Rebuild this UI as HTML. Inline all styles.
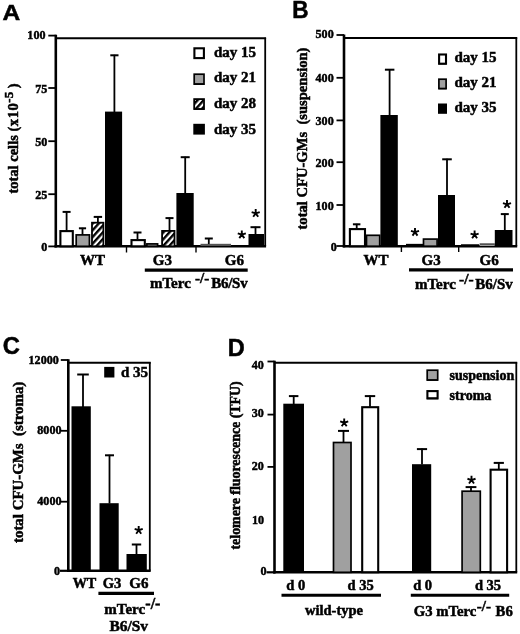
<!DOCTYPE html>
<html><head><meta charset="utf-8"><title>Figure</title>
<style>
html,body{margin:0;padding:0;background:#fff;}
body{width:520px;height:634px;overflow:hidden;font-family:"Liberation Serif",serif;}
svg{display:block;}
</style></head>
<body>
<svg width="520" height="634" viewBox="0 0 520 634">
<defs>
<pattern id="hatch" width="4.5" height="4.5" patternUnits="userSpaceOnUse" patternTransform="rotate(-48) translate(0,1.2)">
<rect width="4.5" height="4.5" fill="#fff"/><rect width="4.5" height="2.4" fill="#060606"/>
</pattern>
<filter id="soft"><feGaussianBlur stdDeviation="0.45"/></filter>
</defs>
<rect width="520" height="634" fill="#fff"/>
<g filter="url(#soft)">
<text transform="translate(2.6,20.1) scale(1.09,1)" font-family='"Liberation Sans", sans-serif' font-weight="bold" font-size="22.5" text-anchor="start" fill="#060606" stroke="#060606" stroke-width="0.5" >A</text>
<line x1="55.8" y1="34.7" x2="55.8" y2="247.5" stroke="#060606" stroke-width="2.6"/>
<line x1="54.5" y1="246.3" x2="266.1" y2="246.3" stroke="#060606" stroke-width="2.4"/>
<line x1="55.8" y1="38.2" x2="266.1" y2="38.2" stroke="#060606" stroke-width="1.9"/>
<line x1="265.2" y1="37.7" x2="265.2" y2="246.3" stroke="#060606" stroke-width="1.8"/>
<line x1="48.3" y1="35.6" x2="55.8" y2="35.6" stroke="#060606" stroke-width="1.8"/>
<text transform="translate(45.5,39.2) scale(0.93,1)" font-family='"Liberation Serif", serif' font-weight="bold" font-size="13" text-anchor="end" fill="#060606" stroke="#060606" stroke-width="0.5" >100</text>
<line x1="48.3" y1="88.0" x2="55.8" y2="88.0" stroke="#060606" stroke-width="1.8"/>
<text transform="translate(47.4,92.5) scale(0.93,1)" font-family='"Liberation Serif", serif' font-weight="bold" font-size="13" text-anchor="end" fill="#060606" stroke="#060606" stroke-width="0.5" >75</text>
<line x1="48.3" y1="141.2" x2="55.8" y2="141.2" stroke="#060606" stroke-width="1.8"/>
<text transform="translate(47.4,145.7) scale(0.93,1)" font-family='"Liberation Serif", serif' font-weight="bold" font-size="13" text-anchor="end" fill="#060606" stroke="#060606" stroke-width="0.5" >50</text>
<line x1="48.3" y1="194.2" x2="55.8" y2="194.2" stroke="#060606" stroke-width="1.8"/>
<text transform="translate(47.4,198.7) scale(0.93,1)" font-family='"Liberation Serif", serif' font-weight="bold" font-size="13" text-anchor="end" fill="#060606" stroke="#060606" stroke-width="0.5" >25</text>
<line x1="48.3" y1="246.4" x2="55.8" y2="246.4" stroke="#060606" stroke-width="1.8"/>
<text transform="translate(47.4,250.9) scale(0.93,1)" font-family='"Liberation Serif", serif' font-weight="bold" font-size="13" text-anchor="end" fill="#060606" stroke="#060606" stroke-width="0.5" >0</text>
<text transform="translate(17.8,193.5) rotate(-90) scale(1,1.02)" font-family='"Liberation Serif", serif' font-weight="bold" font-size="14.5" text-anchor="start" fill="#060606" stroke="#060606" stroke-width="0.5" >total cells <tspan letter-spacing="0.6">(x10</tspan><tspan dy="-4.5" font-size="13">-5</tspan><tspan dy="4.5"> )</tspan></text>
<rect x="60.4" y="231.1" width="12.4" height="15.2" fill="#fff" stroke="#060606" stroke-width="2.1"/>
<line x1="66.6" y1="211.4" x2="66.6" y2="231.0" stroke="#060606" stroke-width="1.8"/>
<line x1="62.6" y1="211.9" x2="70.6" y2="211.9" stroke="#060606" stroke-width="2"/>
<rect x="76.2" y="234.9" width="13.2" height="11.4" fill="#a0a0a0" stroke="#060606" stroke-width="1.7"/>
<line x1="82.5" y1="227.8" x2="82.5" y2="235.0" stroke="#060606" stroke-width="1.8"/>
<line x1="78.9" y1="228.3" x2="86.1" y2="228.3" stroke="#060606" stroke-width="2"/>
<rect x="92.0" y="222.7" width="11.4" height="23.6" fill="url(#hatch)" stroke="#060606" stroke-width="1.8"/>
<line x1="97.9" y1="216.4" x2="97.9" y2="222.7" stroke="#060606" stroke-width="1.8"/>
<line x1="93.7" y1="216.9" x2="102.1" y2="216.9" stroke="#060606" stroke-width="2"/>
<rect x="105.0" y="111.6" width="17.1" height="134.7" fill="#060606"/>
<line x1="114.4" y1="54.8" x2="114.4" y2="112.0" stroke="#060606" stroke-width="1.8"/>
<line x1="110.3" y1="55.3" x2="118.5" y2="55.3" stroke="#060606" stroke-width="2"/>
<line x1="126.5" y1="246.3" x2="126.5" y2="252.5" stroke="#060606" stroke-width="1.4"/>
<rect x="131.5" y="240.1" width="13.3" height="6.2" fill="#fff" stroke="#060606" stroke-width="2.1"/>
<line x1="137.5" y1="232.0" x2="137.5" y2="239.0" stroke="#060606" stroke-width="1.8"/>
<line x1="133.5" y1="232.5" x2="141.5" y2="232.5" stroke="#060606" stroke-width="2"/>
<rect x="146.9" y="243.9" width="10.7" height="2.4" fill="#a0a0a0" stroke="#060606" stroke-width="1.7"/>
<rect x="162.1" y="230.9" width="12.4" height="15.4" fill="url(#hatch)" stroke="#060606" stroke-width="1.8"/>
<line x1="169.5" y1="217.6" x2="169.5" y2="230.0" stroke="#060606" stroke-width="1.8"/>
<line x1="165.5" y1="218.1" x2="173.5" y2="218.1" stroke="#060606" stroke-width="2"/>
<rect x="176.4" y="193.0" width="17.3" height="53.3" fill="#060606"/>
<line x1="185.2" y1="156.7" x2="185.2" y2="193.0" stroke="#060606" stroke-width="1.8"/>
<line x1="180.7" y1="157.2" x2="189.7" y2="157.2" stroke="#060606" stroke-width="2"/>
<line x1="196.0" y1="246.3" x2="196.0" y2="252.5" stroke="#060606" stroke-width="1.4"/>
<rect x="200.5" y="243.8" width="30.5" height="2.2" fill="#555"/>
<line x1="208.8" y1="238.0" x2="208.8" y2="244.0" stroke="#060606" stroke-width="1.8"/>
<line x1="204.8" y1="238.5" x2="212.8" y2="238.5" stroke="#060606" stroke-width="2"/>
<path d="M241.80,234.65L241.80,230.40M241.80,234.65L245.84,233.34M241.80,234.65L244.30,238.09M241.80,234.65L239.30,238.09M241.80,234.65L237.76,233.34" stroke="#060606" stroke-width="1.9" fill="none" stroke-linecap="butt"/>
<rect x="248.5" y="234.0" width="15.5" height="12.3" fill="#060606"/>
<line x1="255.5" y1="226.7" x2="255.5" y2="234.0" stroke="#060606" stroke-width="1.8"/>
<line x1="250.5" y1="227.2" x2="260.5" y2="227.2" stroke="#060606" stroke-width="2"/>
<path d="M255.70,213.35L255.70,209.10M255.70,213.35L259.74,212.04M255.70,213.35L258.20,216.79M255.70,213.35L253.20,216.79M255.70,213.35L251.66,212.04" stroke="#060606" stroke-width="1.9" fill="none" stroke-linecap="butt"/>
<text transform="translate(92.5,265.2) scale(1.0,1)" font-family='"Liberation Serif", serif' font-weight="bold" font-size="15" text-anchor="middle" fill="#060606" stroke="#060606" stroke-width="0.5" >WT</text>
<text transform="translate(162.3,265.2) scale(1.0,1)" font-family='"Liberation Serif", serif' font-weight="bold" font-size="15" text-anchor="middle" fill="#060606" stroke="#060606" stroke-width="0.5" >G3</text>
<text transform="translate(234.3,265.2) scale(1.0,1)" font-family='"Liberation Serif", serif' font-weight="bold" font-size="15" text-anchor="middle" fill="#060606" stroke="#060606" stroke-width="0.5" >G6</text>
<line x1="144.8" y1="270.1" x2="247.7" y2="270.1" stroke="#060606" stroke-width="3.1"/>
<text transform="translate(150.0,287.7) scale(1.0,1)" font-family='"Liberation Serif", serif' font-weight="bold" font-size="15" text-anchor="start" fill="#060606" stroke="#060606" stroke-width="0.5" >mTerc<tspan dx="4.2" dy="-4.5" font-size="15">-/-</tspan><tspan dx="2.0" dy="4.5" letter-spacing="-0.25">B6/Sv</tspan></text>
<rect x="194.4" y="48.3" width="9.5" height="9.8" fill="#fff" stroke="#060606" stroke-width="2.1"/>
<line x1="193.9" y1="58.1" x2="204.3" y2="58.1" stroke="#060606" stroke-width="1.7"/>
<text transform="translate(214.0,57.2) scale(1.0,1)" font-family='"Liberation Serif", serif' font-weight="bold" font-size="15" text-anchor="start" fill="#060606" stroke="#060606" stroke-width="0.5" >day 15</text>
<rect x="194.2" y="74.2" width="9.8" height="9.9" fill="#a0a0a0" stroke="#060606" stroke-width="1.7"/>
<line x1="193.9" y1="84.1" x2="204.3" y2="84.1" stroke="#060606" stroke-width="1.7"/>
<text transform="translate(214.0,82.0) scale(1.0,1)" font-family='"Liberation Serif", serif' font-weight="bold" font-size="15" text-anchor="start" fill="#060606" stroke="#060606" stroke-width="0.5" >day 21</text>
<rect x="194.2" y="99.1" width="9.8" height="9.9" fill="url(#hatch)" stroke="#060606" stroke-width="1.8"/>
<line x1="193.9" y1="109.0" x2="204.3" y2="109.0" stroke="#060606" stroke-width="1.7"/>
<text transform="translate(214.0,108.3) scale(1.0,1)" font-family='"Liberation Serif", serif' font-weight="bold" font-size="15" text-anchor="start" fill="#060606" stroke="#060606" stroke-width="0.5" >day 28</text>
<rect x="193.3" y="123.8" width="11.6" height="10.8" fill="#060606"/>
<text transform="translate(214.0,133.5) scale(1.0,1)" font-family='"Liberation Serif", serif' font-weight="bold" font-size="15" text-anchor="start" fill="#060606" stroke="#060606" stroke-width="0.5" >day 35</text>
<text transform="translate(292.3,18.2) scale(0.98,1)" font-family='"Liberation Sans", sans-serif' font-weight="bold" font-size="23" text-anchor="start" fill="#060606" stroke="#060606" stroke-width="0.5" >B</text>
<line x1="344.0" y1="34.5" x2="344.0" y2="247.4" stroke="#060606" stroke-width="2.6"/>
<line x1="342.7" y1="246.2" x2="517.2" y2="246.2" stroke="#060606" stroke-width="2.4"/>
<line x1="344.0" y1="38.0" x2="517.2" y2="38.0" stroke="#060606" stroke-width="1.9"/>
<line x1="516.3" y1="37.5" x2="516.3" y2="246.2" stroke="#060606" stroke-width="1.8"/>
<line x1="336.5" y1="35.0" x2="344.0" y2="35.0" stroke="#060606" stroke-width="1.8"/>
<text transform="translate(333.7,38.4) scale(0.93,1)" font-family='"Liberation Serif", serif' font-weight="bold" font-size="13" text-anchor="end" fill="#060606" stroke="#060606" stroke-width="0.5" >500</text>
<line x1="336.5" y1="77.8" x2="344.0" y2="77.8" stroke="#060606" stroke-width="1.8"/>
<text transform="translate(333.7,82.3) scale(0.93,1)" font-family='"Liberation Serif", serif' font-weight="bold" font-size="13" text-anchor="end" fill="#060606" stroke="#060606" stroke-width="0.5" >400</text>
<line x1="336.5" y1="120.4" x2="344.0" y2="120.4" stroke="#060606" stroke-width="1.8"/>
<text transform="translate(333.7,124.9) scale(0.93,1)" font-family='"Liberation Serif", serif' font-weight="bold" font-size="13" text-anchor="end" fill="#060606" stroke="#060606" stroke-width="0.5" >300</text>
<line x1="336.5" y1="162.2" x2="344.0" y2="162.2" stroke="#060606" stroke-width="1.8"/>
<text transform="translate(333.7,166.7) scale(0.93,1)" font-family='"Liberation Serif", serif' font-weight="bold" font-size="13" text-anchor="end" fill="#060606" stroke="#060606" stroke-width="0.5" >200</text>
<line x1="336.5" y1="205.0" x2="344.0" y2="205.0" stroke="#060606" stroke-width="1.8"/>
<text transform="translate(333.7,209.5) scale(0.93,1)" font-family='"Liberation Serif", serif' font-weight="bold" font-size="13" text-anchor="end" fill="#060606" stroke="#060606" stroke-width="0.5" >100</text>
<line x1="336.5" y1="246.0" x2="344.0" y2="246.0" stroke="#060606" stroke-width="1.8"/>
<text transform="translate(336.9,250.5) scale(0.93,1)" font-family='"Liberation Serif", serif' font-weight="bold" font-size="13" text-anchor="end" fill="#060606" stroke="#060606" stroke-width="0.5" >0</text>
<text transform="translate(306.6,229.5) rotate(-90) scale(1,1.02)" font-family='"Liberation Serif", serif' font-weight="bold" font-size="14.6" text-anchor="start" fill="#060606" stroke="#060606" stroke-width="0.5" >total CFU-GMs &#160;(suspension)</text>
<rect x="349.9" y="229.1" width="15.1" height="17.1" fill="#fff" stroke="#060606" stroke-width="2.1"/>
<line x1="356.7" y1="223.8" x2="356.7" y2="228.3" stroke="#060606" stroke-width="1.8"/>
<line x1="352.9" y1="224.3" x2="360.4" y2="224.3" stroke="#060606" stroke-width="2"/>
<rect x="366.5" y="235.3" width="13.2" height="10.9" fill="#a0a0a0" stroke="#060606" stroke-width="1.7"/>
<rect x="380.4" y="115.0" width="17.4" height="131.2" fill="#060606"/>
<line x1="389.6" y1="69.2" x2="389.6" y2="115.0" stroke="#060606" stroke-width="1.8"/>
<line x1="384.9" y1="69.7" x2="394.4" y2="69.7" stroke="#060606" stroke-width="2"/>
<line x1="401.4" y1="246.2" x2="401.4" y2="252.0" stroke="#060606" stroke-width="1.4"/>
<path d="M415.00,232.15L415.00,227.90M415.00,232.15L419.04,230.84M415.00,232.15L417.50,235.59M415.00,232.15L412.50,235.59M415.00,232.15L410.96,230.84" stroke="#060606" stroke-width="1.9" fill="none" stroke-linecap="butt"/>
<line x1="406.0" y1="244.7" x2="423.0" y2="244.7" stroke="#060606" stroke-width="1.7"/>
<rect x="423.5" y="239.1" width="13.6" height="7.1" fill="#a0a0a0" stroke="#060606" stroke-width="1.7"/>
<rect x="438.0" y="195.0" width="17.0" height="51.2" fill="#060606"/>
<line x1="447.0" y1="158.8" x2="447.0" y2="195.0" stroke="#060606" stroke-width="1.8"/>
<line x1="442.2" y1="159.3" x2="451.8" y2="159.3" stroke="#060606" stroke-width="2"/>
<line x1="458.7" y1="246.2" x2="458.7" y2="252.0" stroke="#060606" stroke-width="1.4"/>
<path d="M474.60,234.85L474.60,230.60M474.60,234.85L478.64,233.54M474.60,234.85L477.10,238.29M474.60,234.85L472.10,238.29M474.60,234.85L470.56,233.54" stroke="#060606" stroke-width="1.9" fill="none" stroke-linecap="butt"/>
<line x1="461.0" y1="244.9" x2="479.0" y2="244.9" stroke="#060606" stroke-width="1.3"/>
<rect x="479.6" y="244.0" width="15.2" height="2.0" fill="#a0a0a0"/>
<line x1="479.6" y1="244.0" x2="494.8" y2="244.0" stroke="#060606" stroke-width="1"/>
<rect x="494.8" y="230.0" width="17.7" height="16.2" fill="#060606"/>
<line x1="504.8" y1="213.6" x2="504.8" y2="230.0" stroke="#060606" stroke-width="1.8"/>
<line x1="500.8" y1="214.1" x2="508.8" y2="214.1" stroke="#060606" stroke-width="2"/>
<path d="M507.00,204.35L507.00,200.10M507.00,204.35L511.04,203.04M507.00,204.35L509.50,207.79M507.00,204.35L504.50,207.79M507.00,204.35L502.96,203.04" stroke="#060606" stroke-width="1.9" fill="none" stroke-linecap="butt"/>
<text transform="translate(376.0,264.7) scale(1.0,1)" font-family='"Liberation Serif", serif' font-weight="bold" font-size="15" text-anchor="middle" fill="#060606" stroke="#060606" stroke-width="0.5" >WT</text>
<text transform="translate(431.2,264.7) scale(1.0,1)" font-family='"Liberation Serif", serif' font-weight="bold" font-size="15" text-anchor="middle" fill="#060606" stroke="#060606" stroke-width="0.5" >G3</text>
<text transform="translate(489.2,264.7) scale(1.0,1)" font-family='"Liberation Serif", serif' font-weight="bold" font-size="15" text-anchor="middle" fill="#060606" stroke="#060606" stroke-width="0.5" >G6</text>
<line x1="409.0" y1="269.9" x2="513.0" y2="269.9" stroke="#060606" stroke-width="3.1"/>
<text transform="translate(415.0,288.7) scale(1.0,1)" font-family='"Liberation Serif", serif' font-weight="bold" font-size="15" text-anchor="start" fill="#060606" stroke="#060606" stroke-width="0.5" >mTerc<tspan dx="3.2" dy="-4.5" font-size="15.5">-/-</tspan><tspan dx="1.6" dy="4.5">B6/Sv</tspan></text>
<rect x="439.1" y="54.5" width="6.9" height="9.2" fill="#fff" stroke="#060606" stroke-width="2.1"/>
<line x1="438.6" y1="63.8" x2="446.4" y2="63.8" stroke="#060606" stroke-width="1.4"/>
<text transform="translate(454.4,62.4) scale(1.0,1)" font-family='"Liberation Serif", serif' font-weight="bold" font-size="15" text-anchor="start" fill="#060606" stroke="#060606" stroke-width="0.5" >day 15</text>
<rect x="438.9" y="79.2" width="7.2" height="9.4" fill="#a0a0a0" stroke="#060606" stroke-width="1.7"/>
<line x1="438.6" y1="88.6" x2="446.4" y2="88.6" stroke="#060606" stroke-width="1.4"/>
<text transform="translate(454.4,87.2) scale(1.0,1)" font-family='"Liberation Serif", serif' font-weight="bold" font-size="15" text-anchor="start" fill="#060606" stroke="#060606" stroke-width="0.5" >day 21</text>
<rect x="438.0" y="103.5" width="9.0" height="10.3" fill="#060606"/>
<text transform="translate(454.4,112.4) scale(1.0,1)" font-family='"Liberation Serif", serif' font-weight="bold" font-size="15" text-anchor="start" fill="#060606" stroke="#060606" stroke-width="0.5" >day 35</text>
<text transform="translate(2.8,353.6) scale(0.97,1)" font-family='"Liberation Sans", sans-serif' font-weight="bold" font-size="24.5" text-anchor="start" fill="#060606" stroke="#060606" stroke-width="0.5" >C</text>
<line x1="68.3" y1="359.2" x2="68.3" y2="572.0" stroke="#060606" stroke-width="2.6"/>
<line x1="67.0" y1="570.8" x2="150.7" y2="570.8" stroke="#060606" stroke-width="2.4"/>
<line x1="68.3" y1="362.7" x2="150.7" y2="362.7" stroke="#060606" stroke-width="1.9"/>
<line x1="149.8" y1="362.2" x2="149.8" y2="570.8" stroke="#060606" stroke-width="1.8"/>
<line x1="60.8" y1="360.0" x2="68.3" y2="360.0" stroke="#060606" stroke-width="1.8"/>
<text transform="translate(58.8,363.5) scale(0.93,1)" font-family='"Liberation Serif", serif' font-weight="bold" font-size="13" text-anchor="end" fill="#060606" stroke="#060606" stroke-width="0.5" >12000</text>
<line x1="60.8" y1="430.8" x2="68.3" y2="430.8" stroke="#060606" stroke-width="1.8"/>
<text transform="translate(61.5,434.3) scale(0.93,1)" font-family='"Liberation Serif", serif' font-weight="bold" font-size="13" text-anchor="end" fill="#060606" stroke="#060606" stroke-width="0.5" >8000</text>
<line x1="60.8" y1="501.7" x2="68.3" y2="501.7" stroke="#060606" stroke-width="1.8"/>
<text transform="translate(61.5,505.2) scale(0.93,1)" font-family='"Liberation Serif", serif' font-weight="bold" font-size="13" text-anchor="end" fill="#060606" stroke="#060606" stroke-width="0.5" >4000</text>
<text transform="translate(60.0,575.3) scale(0.93,1)" font-family='"Liberation Serif", serif' font-weight="bold" font-size="13" text-anchor="end" fill="#060606" stroke="#060606" stroke-width="0.5" >0</text>
<line x1="60.0" y1="570.8" x2="68.5" y2="570.8" stroke="#060606" stroke-width="2.2"/>
<text transform="translate(23.0,543.0) rotate(-90) scale(1,1.02)" font-family='"Liberation Serif", serif' font-weight="bold" font-size="14.9" text-anchor="start" fill="#060606" stroke="#060606" stroke-width="0.5" >total CFU-GMs &#160;(stroma)</text>
<rect x="71.5" y="406.3" width="19.3" height="164.5" fill="#060606"/>
<line x1="83.0" y1="374.0" x2="83.0" y2="407.0" stroke="#060606" stroke-width="1.8"/>
<line x1="77.2" y1="374.5" x2="88.8" y2="374.5" stroke="#060606" stroke-width="2"/>
<rect x="99.5" y="503.2" width="19.2" height="67.6" fill="#060606"/>
<line x1="109.5" y1="454.8" x2="109.5" y2="503.5" stroke="#060606" stroke-width="1.8"/>
<line x1="105.0" y1="455.3" x2="114.0" y2="455.3" stroke="#060606" stroke-width="2"/>
<rect x="126.5" y="554.0" width="20.3" height="16.8" fill="#060606"/>
<line x1="136.5" y1="544.0" x2="136.5" y2="554.0" stroke="#060606" stroke-width="1.8"/>
<line x1="131.8" y1="544.5" x2="141.2" y2="544.5" stroke="#060606" stroke-width="2"/>
<path d="M138.70,530.25L138.70,526.00M138.70,530.25L142.74,528.94M138.70,530.25L141.20,533.69M138.70,530.25L136.20,533.69M138.70,530.25L134.66,528.94" stroke="#060606" stroke-width="1.9" fill="none" stroke-linecap="butt"/>
<rect x="104.2" y="366.9" width="10.2" height="10.6" fill="#060606"/>
<text transform="translate(121.0,377.0) scale(1.0,1)" font-family='"Liberation Serif", serif' font-weight="bold" font-size="15" text-anchor="start" fill="#060606" stroke="#060606" stroke-width="0.5" >d 35</text>
<text transform="translate(84.5,588.0) scale(0.95,1)" font-family='"Liberation Serif", serif' font-weight="bold" font-size="15" text-anchor="middle" fill="#060606" stroke="#060606" stroke-width="0.5" >WT</text>
<text transform="translate(112.0,588.0) scale(0.97,1)" font-family='"Liberation Serif", serif' font-weight="bold" font-size="15" text-anchor="middle" fill="#060606" stroke="#060606" stroke-width="0.5" >G3</text>
<text transform="translate(138.8,588.0) scale(1.0,1)" font-family='"Liberation Serif", serif' font-weight="bold" font-size="15" text-anchor="middle" fill="#060606" stroke="#060606" stroke-width="0.5" >G6</text>
<line x1="98.4" y1="593.3" x2="154.0" y2="593.3" stroke="#060606" stroke-width="3.3"/>
<text transform="translate(104.3,614.4) scale(1.0,1)" font-family='"Liberation Serif", serif' font-weight="bold" font-size="15" text-anchor="start" fill="#060606" stroke="#060606" stroke-width="0.5" >mTerc<tspan dx="0.2" dy="-5.5" font-size="16">-/-</tspan></text>
<text transform="translate(109.4,630.6) scale(1.03,1)" font-family='"Liberation Serif", serif' font-weight="bold" font-size="15" text-anchor="start" fill="#060606" stroke="#060606" stroke-width="0.5" >B6/Sv</text>
<text transform="translate(227.8,356.3) scale(1.0,1)" font-family='"Liberation Sans", sans-serif' font-weight="bold" font-size="23.5" text-anchor="start" fill="#060606" stroke="#060606" stroke-width="0.5" >D</text>
<line x1="274.5" y1="360.7" x2="274.5" y2="573.5" stroke="#060606" stroke-width="2.6"/>
<line x1="273.2" y1="572.3" x2="517.2" y2="572.3" stroke="#060606" stroke-width="2.4"/>
<line x1="274.5" y1="362.7" x2="517.2" y2="362.7" stroke="#060606" stroke-width="1.9"/>
<line x1="516.3" y1="362.2" x2="516.3" y2="572.3" stroke="#060606" stroke-width="1.8"/>
<line x1="267.5" y1="361.5" x2="274.5" y2="361.5" stroke="#060606" stroke-width="1.8"/>
<text transform="translate(263.9,368.5) scale(0.93,1)" font-family='"Liberation Serif", serif' font-weight="bold" font-size="13" text-anchor="end" fill="#060606" stroke="#060606" stroke-width="0.5" >40</text>
<line x1="267.5" y1="414.6" x2="274.5" y2="414.6" stroke="#060606" stroke-width="1.8"/>
<text transform="translate(263.9,417.0) scale(0.93,1)" font-family='"Liberation Serif", serif' font-weight="bold" font-size="13" text-anchor="end" fill="#060606" stroke="#060606" stroke-width="0.5" >30</text>
<line x1="267.5" y1="466.9" x2="274.5" y2="466.9" stroke="#060606" stroke-width="1.8"/>
<text transform="translate(263.9,470.0) scale(0.93,1)" font-family='"Liberation Serif", serif' font-weight="bold" font-size="13" text-anchor="end" fill="#060606" stroke="#060606" stroke-width="0.5" >20</text>
<text transform="translate(264.0,523.7) scale(0.93,1)" font-family='"Liberation Serif", serif' font-weight="bold" font-size="13" text-anchor="end" fill="#060606" stroke="#060606" stroke-width="0.5" >10</text>
<text transform="translate(266.6,574.9) scale(0.93,1)" font-family='"Liberation Serif", serif' font-weight="bold" font-size="13" text-anchor="end" fill="#060606" stroke="#060606" stroke-width="0.5" >0</text>
<line x1="266.5" y1="572.3" x2="275.0" y2="572.3" stroke="#060606" stroke-width="2.2"/>
<text transform="translate(240.3,549.5) rotate(-90) scale(1,1.02)" font-family='"Liberation Serif", serif' font-weight="bold" font-size="13.9" text-anchor="start" fill="#060606" stroke="#060606" stroke-width="0.5" >telomere fluorescence (TFU)</text>
<rect x="283.3" y="403.7" width="20.7" height="168.6" fill="#060606"/>
<line x1="293.7" y1="395.6" x2="293.7" y2="404.0" stroke="#060606" stroke-width="1.8"/>
<line x1="288.9" y1="396.1" x2="298.4" y2="396.1" stroke="#060606" stroke-width="2"/>
<rect x="333.5" y="442.5" width="17.5" height="129.8" fill="#a0a0a0" stroke="#060606" stroke-width="1.7"/>
<line x1="343.5" y1="430.4" x2="343.5" y2="442.0" stroke="#060606" stroke-width="1.8"/>
<line x1="338.0" y1="430.9" x2="349.0" y2="430.9" stroke="#060606" stroke-width="2"/>
<path d="M344.20,422.75L344.20,418.50M344.20,422.75L348.24,421.44M344.20,422.75L346.70,426.19M344.20,422.75L341.70,426.19M344.20,422.75L340.16,421.44" stroke="#060606" stroke-width="1.9" fill="none" stroke-linecap="butt"/>
<rect x="362.2" y="407.2" width="16.0" height="165.0" fill="#fff" stroke="#060606" stroke-width="2.1"/>
<line x1="370.0" y1="395.6" x2="370.0" y2="406.8" stroke="#060606" stroke-width="1.8"/>
<line x1="364.8" y1="396.1" x2="375.2" y2="396.1" stroke="#060606" stroke-width="2"/>
<rect x="412.0" y="464.2" width="19.2" height="108.1" fill="#060606"/>
<line x1="422.0" y1="448.6" x2="422.0" y2="464.5" stroke="#060606" stroke-width="1.8"/>
<line x1="416.9" y1="449.1" x2="427.1" y2="449.1" stroke="#060606" stroke-width="2"/>
<rect x="462.1" y="491.2" width="18.2" height="81.1" fill="#a0a0a0" stroke="#060606" stroke-width="1.7"/>
<line x1="471.0" y1="486.6" x2="471.0" y2="491.0" stroke="#060606" stroke-width="1.8"/>
<line x1="465.6" y1="487.1" x2="476.4" y2="487.1" stroke="#060606" stroke-width="2"/>
<path d="M471.50,480.05L471.50,475.80M471.50,480.05L475.54,478.74M471.50,480.05L474.00,483.49M471.50,480.05L469.00,483.49M471.50,480.05L467.46,478.74" stroke="#060606" stroke-width="1.9" fill="none" stroke-linecap="butt"/>
<rect x="490.6" y="469.7" width="16.5" height="102.6" fill="#fff" stroke="#060606" stroke-width="2.1"/>
<line x1="498.8" y1="462.4" x2="498.8" y2="469.0" stroke="#060606" stroke-width="1.8"/>
<line x1="493.7" y1="462.9" x2="503.9" y2="462.9" stroke="#060606" stroke-width="2"/>
<rect x="427.2" y="370.2" width="10.5" height="9.8" fill="#a0a0a0" stroke="#060606" stroke-width="1.7"/>
<line x1="426.9" y1="380.0" x2="438.0" y2="380.0" stroke="#060606" stroke-width="1.7"/>
<text transform="translate(449.6,379.9) scale(1.0,1)" font-family='"Liberation Serif", serif' font-weight="bold" font-size="14" text-anchor="start" fill="#060606" stroke="#060606" stroke-width="0.5" >suspension</text>
<rect x="427.4" y="391.1" width="10.2" height="7.3" fill="#fff" stroke="#060606" stroke-width="2.1"/>
<line x1="426.9" y1="398.4" x2="438.0" y2="398.4" stroke="#060606" stroke-width="1.7"/>
<text transform="translate(449.6,400.1) scale(1.0,1)" font-family='"Liberation Serif", serif' font-weight="bold" font-size="14" text-anchor="start" fill="#060606" stroke="#060606" stroke-width="0.5" >stroma</text>
<text transform="translate(295.7,590.4) scale(1.0,1)" font-family='"Liberation Serif", serif' font-weight="bold" font-size="14.5" text-anchor="middle" fill="#060606" stroke="#060606" stroke-width="0.5" >d 0</text>
<text transform="translate(360.7,590.4) scale(1.0,1)" font-family='"Liberation Serif", serif' font-weight="bold" font-size="14.5" text-anchor="middle" fill="#060606" stroke="#060606" stroke-width="0.5" >d 35</text>
<text transform="translate(422.6,590.4) scale(1.0,1)" font-family='"Liberation Serif", serif' font-weight="bold" font-size="14.5" text-anchor="middle" fill="#060606" stroke="#060606" stroke-width="0.5" >d 0</text>
<text transform="translate(488.0,590.4) scale(1.0,1)" font-family='"Liberation Serif", serif' font-weight="bold" font-size="14.5" text-anchor="middle" fill="#060606" stroke="#060606" stroke-width="0.5" >d 35</text>
<line x1="281.5" y1="595.3" x2="381.0" y2="595.3" stroke="#060606" stroke-width="3.1"/>
<line x1="410.8" y1="595.3" x2="509.2" y2="595.3" stroke="#060606" stroke-width="3.1"/>
<text transform="translate(334.0,614.9) scale(1.0,1)" font-family='"Liberation Serif", serif' font-weight="bold" font-size="14.5" text-anchor="middle" fill="#060606" stroke="#060606" stroke-width="0.5" >wild-type</text>
<text transform="translate(413.8,615.5) scale(1.0,1)" font-family='"Liberation Serif", serif' font-weight="bold" font-size="14.7" text-anchor="start" fill="#060606" stroke="#060606" stroke-width="0.5" >G3 mTerc<tspan dx="0.6" dy="-4.5" font-size="15">-/-</tspan><tspan dx="4.6" dy="4.5">B6</tspan></text>
</g>
</svg>
</body></html>
